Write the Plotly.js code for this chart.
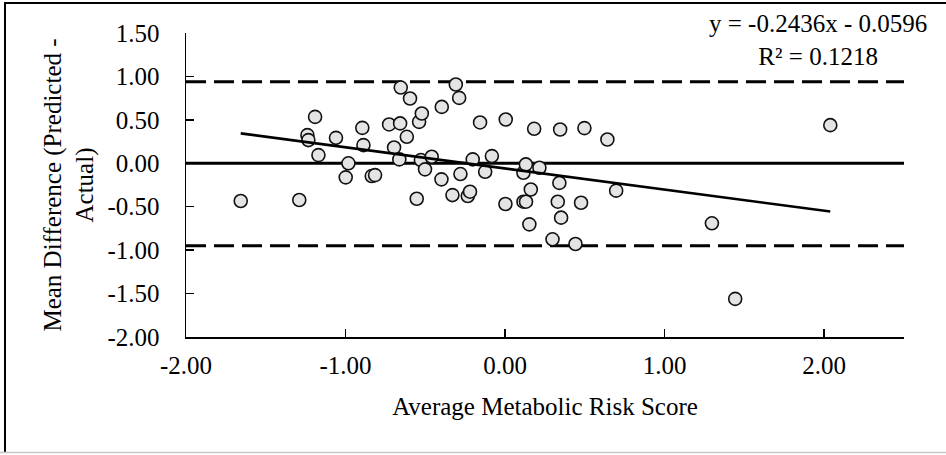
<!DOCTYPE html>
<html>
<head>
<meta charset="utf-8">
<script src="https://cdn.plot.ly/plotly-3.0.1.min.js"></script>
<style>html,body{margin:0;padding:0;background:#fff;}#chart{width:946px;height:455px;}</style>
</head>
<body>
<div id="chart"></div>
<script>
// Average metabolic risk score (x) and mean difference predicted - actual (y)
const avgRiskScore = [
  -1.657, -1.290, -1.239, -1.233, -1.191, -1.170, -1.060, -0.982, -0.999, -0.895,
  -0.888, -0.836, -0.815, -0.727, -0.696, -0.663, -0.658, -0.654, -0.616, -0.596,
  -0.554, -0.539, -0.528, -0.522, -0.502, -0.460, -0.399, -0.397, -0.330, -0.309,
  -0.288, -0.280, -0.234, -0.220, -0.203, -0.157, -0.125, -0.083, 0.002, 0.004,
  0.115, 0.115, 0.130, 0.131, 0.152, 0.161, 0.182, 0.215, 0.297, 0.330,
  0.340, 0.345, 0.351, 0.441, 0.476, 0.497, 0.641, 0.696, 1.296, 1.442,
  2.038
];
const meanDifference = [
  -0.434, -0.423, 0.324, 0.267, 0.534, 0.094, 0.293, 0.000, -0.162, 0.408,
  0.209, -0.147, -0.136, 0.447, 0.182, 0.045, 0.459, 0.872, 0.305, 0.746,
  -0.408, 0.477, 0.037, 0.573, -0.070, 0.075, -0.185, 0.649, -0.366, 0.907,
  0.753, -0.124, -0.377, -0.327, 0.045, 0.470, -0.098, 0.083, -0.469, 0.504,
  -0.109, -0.442, -0.013, -0.442, -0.703, -0.302, 0.397, -0.052, -0.875, -0.442,
  -0.226, 0.389, -0.626, -0.929, -0.454, 0.405, 0.274, -0.315, -0.691, -1.561,
  0.439
];
// Trendline (as printed on the chart) and reference lines
const trendSlope = -0.2436;
const trendIntercept = -0.0596;
const trendR2 = 0.1218;
const upperLimit = 0.94;
const lowerLimit = -0.95;
const biasLine = 0;
// Axes
const xRange = [-2, 2.5];
const yRange = [-2, 1.5];
const xTickValues = [-2, -1, 0, 1, 2];
const xTickLabels = ['-2.00', '-1.00', '0.00', '1.00', '2.00'];
const yTickValues = [-2, -1.5, -1, -0.5, 0, 0.5, 1, 1.5];
const yTickLabels = ['-2.00', '-1.50', '-1.00', '-0.50', '0.00', '0.50', '1.00', '1.50'];
const xTitle = 'Average Metabolic Risk Score';
const yTitle = 'Mean Difference (Predicted -<br>Actual)';

const FONT = 'Liberation Serif, Times New Roman, serif';
const xMin = Math.min(...avgRiskScore), xMax = Math.max(...avgRiskScore);
const trendX = [xMin, xMax];
const trendY = trendX.map(v => trendSlope * v + trendIntercept);
const fmt = (v, d) => (v < 0 ? '- ' + Math.abs(v).toFixed(d) : '+ ' + v.toFixed(d));
const eqText = 'y = ' + trendSlope.toFixed(4) + 'x ' + fmt(trendIntercept, 4) + '<br>R² = ' + trendR2.toFixed(4);

const traces = [
  {x: xRange, y: [upperLimit, upperLimit], mode: 'lines', line: {color: '#000', width: 3, dash: '20px,8px'}, hoverinfo: 'skip'},
  {x: xRange, y: [lowerLimit, lowerLimit], mode: 'lines', line: {color: '#000', width: 3, dash: '20px,8px'}, hoverinfo: 'skip'},
  {x: xRange, y: [biasLine, biasLine], mode: 'lines', line: {color: '#000', width: 3}, hoverinfo: 'skip'},
  {x: avgRiskScore, y: meanDifference, mode: 'markers', type: 'scatter',
   marker: {symbol: 'circle', size: 13, color: '#e4e4e4', line: {color: '#111', width: 1.6}}},
  {x: trendX, y: trendY, mode: 'lines', line: {color: '#000', width: 2.6}, hoverinfo: 'skip'}
];

const L = 186, R = 42, T = 33, B = 118, W = 946, H = 455;
const pw = W - L - R, ph = H - T - B;
const px = v => (v - L) / pw;
const py = v => (H - B - v) / ph;

const layout = {
  width: W, height: H,
  margin: {l: L, r: R, t: T, b: B, pad: 0},
  paper_bgcolor: '#fff', plot_bgcolor: '#fff',
  showlegend: false,
  font: {family: FONT, size: 25, color: '#000'},
  xaxis: {
    range: xRange, tickmode: 'array', tickvals: xTickValues, ticktext: xTickLabels,
    ticks: 'inside', ticklen: 8, tickwidth: 1.5, tickcolor: '#000',
    showline: true, linecolor: '#000', linewidth: 1.5, mirror: false,
    showgrid: false, zeroline: false, ticklabelstandoff: 5,
    tickfont: {family: FONT, size: 25, color: '#000'},
    title: {text: xTitle, font: {family: FONT, size: 25, color: '#000'}, standoff: 20}
  },
  yaxis: {
    range: yRange, tickmode: 'array', tickvals: yTickValues, ticktext: yTickLabels,
    ticks: 'inside', ticklen: 8, tickwidth: 1.5, tickcolor: '#000',
    showline: true, linecolor: '#000', linewidth: 1.5,
    showgrid: false, zeroline: false, ticklabelstandoff: 20,
    tickfont: {family: FONT, size: 25, color: '#000'},
    title: {text: yTitle, font: {family: FONT, size: 25, color: '#000'}, standoff: 6}
  },
  annotations: [
    {xref: 'paper', yref: 'paper', x: px(818), y: py(40), xanchor: 'center', yanchor: 'middle',
     text: eqText, showarrow: false, align: 'center', font: {family: FONT, size: 25, color: '#000'}}
  ],
  shapes: [
    {type: 'line', xref: 'paper', yref: 'paper', x0: px(4), x1: px(946), y0: py(3), y1: py(3), line: {color: '#000', width: 2}},
    {type: 'line', xref: 'paper', yref: 'paper', x0: px(5), x1: px(5), y0: py(3), y1: py(452), line: {color: '#000', width: 2}},
    {type: 'line', xref: 'paper', yref: 'paper', x0: px(0), x1: px(946), y0: py(452.5), y1: py(452.5), line: {color: '#c8c8c8', width: 1.5}}
  ]
};

Plotly.newPlot('chart', traces, layout, {displayModeBar: false, staticPlot: true});
</script>
</body>
</html>
